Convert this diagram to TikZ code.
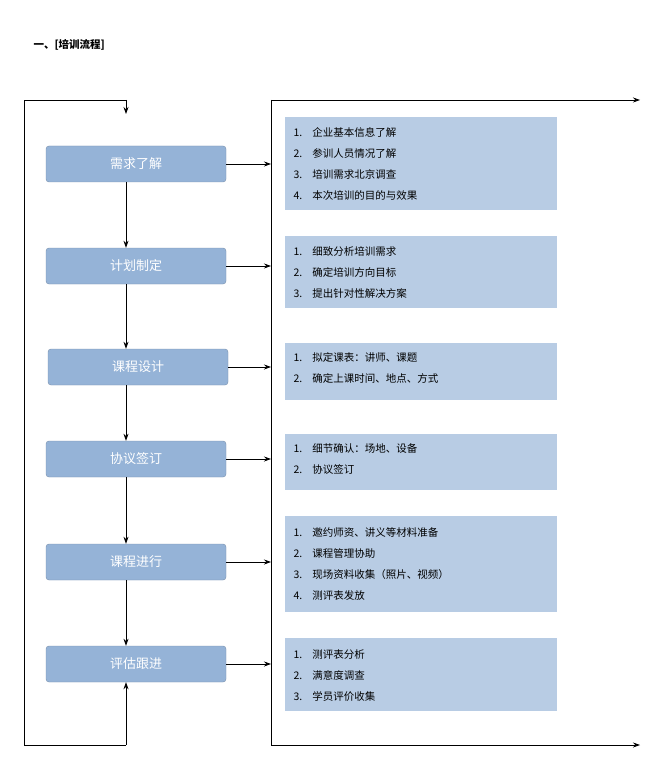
\documentclass[tikz,border=0pt]{standalone}
\usepackage{fontspec}
\setmainfont{Noto Sans CJK SC}
\usetikzlibrary{arrows.meta}
\definecolor{lbox}{HTML}{95B3D7}
\definecolor{rbox}{HTML}{B8CCE4}
\begin{document}
\begin{tikzpicture}[x=1pt,y=-1pt,
  stepbox/.style={draw=lbox!80!black,line width=0.4pt,fill=lbox,rounded corners=3pt,minimum width=180pt,minimum height=36pt,text=white,font=\fontsize{13}{15}\selectfont,inner sep=0pt},
  listbox/.style={fill=rbox,minimum width=272pt,inner sep=0pt,anchor=north west},
  arr/.style={-{Stealth[length=7pt,width=5pt]},line width=0.8pt},
  ln/.style={line width=0.8pt}]
\useasboundingbox (0,0) rectangle (657,759);
\node[anchor=west,font=\fontsize{10.5}{12}\selectfont\bfseries] (title) at (30,45) {一、[培训流程]};
\node[stepbox] (s1) at (136,164) {需求了解};
\node[stepbox] (s2) at (136,266) {计划制定};
\node[stepbox] (s3) at (138,367) {课程设计};
\node[stepbox] (s4) at (136,459) {协议签订};
\node[stepbox] (s5) at (136,562) {课程进行};
\node[stepbox] (s6) at (136,664) {评估跟进};
\foreach \a/\b in {s1/s2,s2/s3,s3/s4,s4/s5,s5/s6}{\draw[arr] (\a.south -| 126,0) -- (\b.north -| 126,0);}
\newcommand{\lst}[1]{\fontsize{10.5}{21}\selectfont\begin{tabular}{@{}l@{\hspace{10pt}}l@{}}#1\end{tabular}}
\node[listbox,minimum height=93pt] (r1) at (285,117) {};
\node[anchor=west] at (290,163.5) {\lst{1.&企业基本信息了解\\2.&参训人员情况了解\\3.&培训需求北京调查\\4.&本次培训的目的与效果}};
\node[listbox,minimum height=72pt] (r2) at (285,236) {};
\node[anchor=west] at (290,272) {\lst{1.&细致分析培训需求\\2.&确定培训方向目标\\3.&提出针对性解决方案}};
\node[listbox,minimum height=57pt] (r3) at (285,343) {};
\node[anchor=west] at (290,368) {\lst{1.&拟定课表：讲师、课题\\2.&确定上课时间、地点、方式}};
\node[listbox,minimum height=56pt] (r4) at (285,434) {};
\node[anchor=west] at (290,459) {\lst{1.&细节确认：场地、设备\\2.&协议签订}};
\node[listbox,minimum height=96pt] (r5) at (285,516) {};
\node[anchor=west] at (290,564) {\lst{1.&邀约师资、讲义等材料准备\\2.&课程管理协助\\3.&现场资料收集（照片、视频）\\4.&测评表发放}};
\node[listbox,minimum height=73pt] (r6) at (285,638) {};
\node[anchor=west] at (290,675) {\lst{1.&测评表分析\\2.&满意度调查\\3.&学员评价收集}};
\coordinate (tl) at (24,100); \coordinate (bl) at (24,745);
\coordinate (tr) at (271,100); \coordinate (br) at (271,745);
\coordinate (te) at (640,100); \coordinate (be) at (640,745);
\draw[ln] (bl) -- (tl) -| (126,112);
\draw[arr] (126,100) -- (126,114);
\draw[ln] (bl) -- (126,745);
\draw[arr] (126,745) -- (s6.south -| 126,0);
\draw[ln] (tr) -- (br);
\draw[arr] (tr) -- (te);
\draw[arr] (br) -- (be);
\foreach \s in {s1,s2,s3,s4,s5,s6}{\draw[arr] (\s.east) -- (\s.east -| tr);}
\end{tikzpicture}
\end{document}
